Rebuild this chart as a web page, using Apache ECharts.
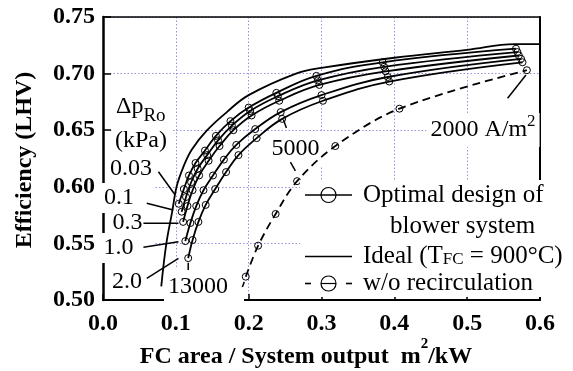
<!DOCTYPE html>
<html>
<head>
<meta charset="utf-8">
<script src="https://cdn.jsdelivr.net/npm/echarts@6/dist/echarts.min.js"></script>
<style>
  html, body { margin: 0; padding: 0; background: #fff; }
  #chart { width: 573px; height: 371px; }
</style>
</head>
<body>
<div id="chart"></div>
<script>
// Current densities (A/m2) at which the optimal blower designs are marked
const currentDensity = [13000, 12000, 11000, 10000, 9000, 8000, 7000, 6000, 5000, 4000, 3000, 2000];

// Optimal design of blower system, one curve per recirculation pressure drop (kPa)
const pressureDrops = ['0.03', '0.1', '0.3', '1.0', '2.0'];
const areaDp003 = [0.104, 0.111, 0.118, 0.127, 0.140, 0.155, 0.175, 0.200, 0.238, 0.293, 0.384, 0.567];
const effDp003  = [0.585, 0.598, 0.610, 0.621, 0.632, 0.645, 0.658, 0.670, 0.683, 0.698, 0.710, 0.722];
const areaDp01  = [0.108, 0.114, 0.121, 0.130, 0.143, 0.158, 0.177, 0.202, 0.240, 0.295, 0.386, 0.569];
const effDp01   = [0.578, 0.591, 0.604, 0.616, 0.628, 0.641, 0.654, 0.667, 0.680, 0.694, 0.706, 0.719];
const areaDp03  = [0.110, 0.116, 0.123, 0.132, 0.145, 0.160, 0.179, 0.204, 0.242, 0.297, 0.388, 0.571];
const effDp03   = [0.569, 0.583, 0.597, 0.610, 0.623, 0.636, 0.650, 0.663, 0.676, 0.690, 0.702, 0.716];
const areaDp10  = [0.113, 0.120, 0.128, 0.138, 0.151, 0.166, 0.183, 0.209, 0.244, 0.300, 0.391, 0.574];
const effDp10   = [0.552, 0.568, 0.583, 0.597, 0.610, 0.624, 0.637, 0.651, 0.666, 0.681, 0.697, 0.713];
const areaDp20  = [0.117, 0.123, 0.131, 0.141, 0.154, 0.169, 0.186, 0.211, 0.246, 0.302, 0.393, 0.576];
const effDp20   = [0.537, 0.553, 0.569, 0.584, 0.598, 0.613, 0.628, 0.643, 0.660, 0.676, 0.693, 0.710];

// Ideal case (T_FC = 900 °C)
const idealArea = [0.080, 0.087, 0.095, 0.101, 0.110, 0.122, 0.143, 0.170, 0.200, 0.265, 0.300, 0.400, 0.500, 0.565, 0.600];
const idealEff  = [0.512, 0.550, 0.578, 0.600, 0.617, 0.633, 0.650, 0.666, 0.681, 0.700, 0.705, 0.714, 0.721, 0.726, 0.726];

// Without anode recirculation
const noRecircArea = [0.196, 0.213, 0.237, 0.2665, 0.319, 0.407, 0.582];
const noRecircEff  = [0.5206, 0.548, 0.576, 0.605, 0.636, 0.669, 0.703];

// Axis ticks
const xTicks = [0.0, 0.1, 0.2, 0.3, 0.4, 0.5, 0.6];
const yTicks = [0.50, 0.55, 0.60, 0.65, 0.70, 0.75];

// Leader lines from the annotations to the curves (data units)
const leaderLines = [
  [[0.0761, 0.6133], [0.0991, 0.5928]],
  [[0.0601, 0.5854], [0.0965, 0.5795]],
  [[0.0555, 0.5678], [0.1036, 0.5678]],
  [[0.0555, 0.5466], [0.1036, 0.5515]],
  [[0.0601, 0.5192], [0.1036, 0.5368]],
  [[0.1170, 0.5265], [0.1170, 0.5330]],
  [[0.1913, 0.5115], [0.1940, 0.5160]],
  [[0.2573, 0.6219], [0.2642, 0.6140]],
  [[0.2518, 0.6520], [0.2477, 0.6595]],
  [[0.5555, 0.6782], [0.5807, 0.6988]]
];

const SERIF = "'Liberation Serif', 'Times New Roman', serif";
const pairs = (xs, ys) => xs.map((x, i) => [x, ys[i]]);

const optimalCurves = [
  pairs(areaDp003, effDp003),
  pairs(areaDp01, effDp01),
  pairs(areaDp03, effDp03),
  pairs(areaDp10, effDp10),
  pairs(areaDp20, effDp20)
];

const series = [];

series.push({
  name: 'Ideal',
  type: 'line',
  data: pairs(idealArea, idealEff),
  smooth: 0.4,
  symbol: 'none',
  lineStyle: { color: '#000', width: 1.8 },
  z: 2
});

optimalCurves.forEach((curve, k) => {
  series.push({
    name: 'Δp ' + pressureDrops[k] + ' kPa',
    type: 'line',
    data: curve,
    smooth: 0.4,
    symbol: 'circle',
    symbolSize: 7,
    itemStyle: { color: 'rgba(255,255,255,0)', borderColor: '#000', borderWidth: 1 },
    lineStyle: { color: '#000', width: 1.8 },
    z: 2
  });
});

series.push({
  name: 'w/o recirculation',
  type: 'line',
  data: pairs(noRecircArea, noRecircEff),
  smooth: 0.35,
  symbol: 'circle',
  symbolSize: 7,
  itemStyle: { color: 'rgba(255,255,255,0)', borderColor: '#000', borderWidth: 1 },
  lineStyle: { color: '#000', width: 1.8, type: [8, 5] },
  z: 2
});

leaderLines.forEach((seg) => {
  series.push({
    type: 'line',
    data: seg,
    symbol: 'none',
    silent: true,
    lineStyle: { color: '#000', width: 1.5 },
    z: 3
  });
});

// Text helper for annotations drawn on a white box
function note(text, x, y, opts) {
  const o = opts || {};
  return {
    type: 'text',
    x: x, y: y,
    z: 1,
    silent: true,
    style: Object.assign({
      text: text,
      font: '24px ' + SERIF,
      fill: '#000',
      align: o.align || 'center',
      verticalAlign: 'middle',
      textAlign: o.align || 'center',
      textVerticalAlign: 'middle',
      backgroundColor: '#fff',
      padding: o.padding || [2, 3, 2, 3]
    }, o.style || {})
  };
}

const LX0 = 305, LX1 = 352, LCX = 328.5;
const legendGroup = {
  type: 'group',
  z: 10,
  silent: true,
  children: [
    { type: 'rect', shape: { x: 300, y: 180, width: 272, height: 117 }, style: { fill: '#fff' }, z: 10 },
    { type: 'line', shape: { x1: LX0, y1: 195, x2: LX1, y2: 195 }, style: { stroke: '#000', lineWidth: 1.6 }, z: 11 },
    { type: 'circle', shape: { cx: LCX, cy: 195, r: 7.5 }, style: { stroke: '#000', lineWidth: 1.2, fill: null }, z: 11 },
    { type: 'text', x: 363, y: 195, z: 11, style: { text: 'Optimal design of', font: '25px ' + SERIF, fill: '#000', align: 'left', verticalAlign: 'middle', textAlign: 'left', textVerticalAlign: 'middle' } },
    { type: 'text', x: 390, y: 226.5, z: 11, style: { text: 'blower system', font: '25px ' + SERIF, fill: '#000', align: 'left', verticalAlign: 'middle', textAlign: 'left', textVerticalAlign: 'middle' } },
    { type: 'line', shape: { x1: LX0, y1: 256.5, x2: LX1, y2: 256.5 }, style: { stroke: '#000', lineWidth: 1.6 }, z: 11 },
    { type: 'text', x: 363, y: 256.5, z: 11, style: {
        text: '{a|Ideal (T}{b|FC}{a| = 900°C)}',
        fill: '#000', align: 'left', verticalAlign: 'middle', textAlign: 'left', textVerticalAlign: 'middle',
        rich: {
          a: { fontFamily: SERIF, fontSize: 25, fill: '#000', lineHeight: 28 },
          b: { fontFamily: SERIF, fontSize: 17, fill: '#000', lineHeight: 17, padding: [6, 0, 0, 0] }
        }
      } },
    { type: 'line', shape: { x1: LX0, y1: 283.5, x2: 311, y2: 283.5 }, style: { stroke: '#000', lineWidth: 1.6 }, z: 11 },
    { type: 'circle', shape: { cx: LCX, cy: 283.5, r: 7.5 }, style: { stroke: '#000', lineWidth: 1.2, fill: null }, z: 11 },
    { type: 'line', shape: { x1: 321, y1: 283.5, x2: 336, y2: 283.5 }, style: { stroke: '#000', lineWidth: 1.2 }, z: 11 },
    { type: 'line', shape: { x1: 346, y1: 283.5, x2: LX1, y2: 283.5 }, style: { stroke: '#000', lineWidth: 1.6 }, z: 11 },
    { type: 'text', x: 363, y: 283.5, z: 11, style: { text: 'w/o recirculation', font: '25px ' + SERIF, fill: '#000', align: 'left', verticalAlign: 'middle', textAlign: 'left', textVerticalAlign: 'middle' } }
  ]
};

const graphics = [
  // Axis titles
  {
    type: 'text', x: 25, y: 160, rotation: Math.PI / 2, silent: true,
    style: { text: 'Efficiency (LHV)', font: 'bold 24px ' + SERIF, fill: '#000', align: 'center', verticalAlign: 'middle', textAlign: 'center', textVerticalAlign: 'middle' }
  },
  {
    type: 'text', x: 306, y: 357, silent: true,
    style: {
      text: '{t|FC area / System output  m}{s|2}{t|/kW}',
      fill: '#000', align: 'center', verticalAlign: 'middle', textAlign: 'center', textVerticalAlign: 'middle',
      rich: {
        t: { fontFamily: SERIF, fontWeight: 'bold', fontSize: 24, fill: '#000', lineHeight: 40 },
        s: { fontFamily: SERIF, fontWeight: 'bold', fontSize: 15, fill: '#000', verticalAlign: 'top', lineHeight: 15 }
      }
    }
  },
  // Pressure drop annotations
  note('{m|Δp}{s|Ro}', 114, 107, { align: 'left', padding: [0, 2, 0, 2], style: {
      rich: {
        m: { fontFamily: SERIF, fontSize: 24, fill: '#000', lineHeight: 38 },
        s: { fontFamily: SERIF, fontSize: 19, fill: '#000', verticalAlign: 'bottom', lineHeight: 19 }
      } } }),
  note('(kPa)', 113, 141, { align: 'left', padding: [3, 4, 3, 2] }),
  note('0.03', 131, 169),
  note('0.1', 127.5, 198, { padding: [3, 20, 3, 3] }),
  note('0.3', 127.5, 223),
  note('1.0', 127, 248, { padding: [3, 20, 3, 3] }),
  note('2.0', 127, 282),
  note('13000', 204, 287, { padding: [12, 16, 3, 4] }),
  note('5000', 293, 149, { padding: [8, 6, 2, 11] }),
  note('{m|2000 A/m}{s|2}', 483, 130, { padding: [0, 4, 0, 4], style: {
      rich: {
        m: { fontFamily: SERIF, fontSize: 24, fill: '#000', lineHeight: 34 },
        s: { fontFamily: SERIF, fontSize: 17, fill: '#000', verticalAlign: 'top', lineHeight: 17 }
      } } }),
  legendGroup
];

const gridLine = { show: true, lineStyle: { color: '#9494e0', width: 1, type: [1.5, 2] } };

const option = {
  animation: false,
  backgroundColor: '#fff',
  grid: { left: 103, right: 33, top: 17, bottom: 71, containLabel: false },
  xAxis: [
    {
      type: 'value', min: xTicks[0], max: xTicks[xTicks.length - 1], interval: 0.1,
      axisLine: { show: true, onZero: false, lineStyle: { color: '#000', width: 2 } },
      axisTick: { show: true, inside: true, length: 6, lineStyle: { color: '#000', width: 1.5 } },
      axisLabel: { margin: 12, fontFamily: SERIF, fontWeight: 'bold', fontSize: 24, color: '#000',
        formatter: (v) => v.toFixed(1) },
      splitLine: gridLine
    },
    {
      type: 'value', position: 'top', min: xTicks[0], max: xTicks[xTicks.length - 1], interval: 0.1,
      axisLine: { show: true, onZero: false, lineStyle: { color: '#000', width: 1.6 } },
      axisTick: { show: false }, axisLabel: { show: false }, splitLine: { show: false }
    }
  ],
  yAxis: [
    {
      type: 'value', min: yTicks[0], max: yTicks[yTicks.length - 1], interval: 0.05,
      axisLine: { show: true, onZero: false, lineStyle: { color: '#000', width: 2.5 } },
      axisTick: { show: true, inside: true, length: 8, lineStyle: { color: '#000', width: 1.5 } },
      axisLabel: { margin: 8, fontFamily: SERIF, fontWeight: 'bold', fontSize: 24, color: '#000',
        formatter: (v) => v.toFixed(2) },
      splitLine: gridLine
    },
    {
      type: 'value', position: 'right', min: yTicks[0], max: yTicks[yTicks.length - 1], interval: 0.05,
      axisLine: { show: true, onZero: false, lineStyle: { color: '#000', width: 2 } },
      axisTick: { show: false }, axisLabel: { show: false }, splitLine: { show: false }
    }
  ],
  series: series,
  graphic: graphics
};

const chart = echarts.init(document.getElementById('chart'), null, { renderer: 'canvas' });
chart.setOption(option);
</script>
</body>
</html>
